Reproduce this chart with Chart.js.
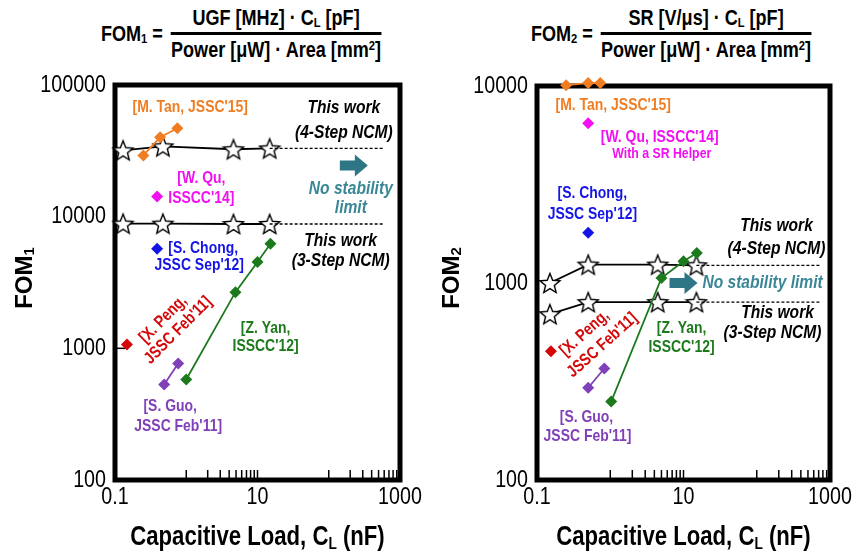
<!DOCTYPE html>
<html>
<head>
<meta charset="utf-8">
<script src="https://cdn.jsdelivr.net/npm/chart.js@4.4.1/dist/chart.umd.min.js"></script>
<style>
  body { margin: 0; background: #fff; }
  #wrap { position: relative; width: 858px; height: 559px; overflow: hidden; }
  .half { position: absolute; top: 0; width: 429px; height: 559px; }
  .fom {
    position: absolute; top: 5px; display: flex; align-items: center; white-space: nowrap;
    font: bold 22px 'Liberation Sans', Arial, sans-serif; line-height: 25px; color: #000;
    transform: scaleX(0.82); transform-origin: 0 0;
  }
  .fom sub { font-size: 0.62em; vertical-align: -0.15em; line-height: 0; }
  .fom sup { font-size: 0.62em; vertical-align: 0.55em; line-height: 0; }
  .frac { display: inline-flex; flex-direction: column; align-items: center; margin-left: 8px; padding: 0 2px; }
  .frac .bar { align-self: stretch; height: 3px; background: #000; margin: 2px 0; }
</style>
</head>
<body>
<div id="wrap">
  <div class="fom" style="left:101px">
    <span>FOM<sub>1</sub> =</span>
    <span class="frac"><span>UGF [MHz] · C<sub>L</sub> [pF]</span><span class="bar"></span><span>Power [μW] · Area [mm<sup>2</sup>]</span></span>
  </div>
  <div class="fom" style="left:531px">
    <span>FOM<sub>2</sub> =</span>
    <span class="frac"><span>SR [V/μs] · C<sub>L</sub> [pF]</span><span class="bar"></span><span>Power [μW] · Area [mm<sup>2</sup>]</span></span>
  </div>
  <canvas id="c1" class="half" style="left:0" width="429" height="559"></canvas>
  <canvas id="c2" class="half" style="left:429px" width="429" height="559"></canvas>
</div>
<script>
// ---- data ----
const xTicks = [0.1, 10, 1000];
const xMinorTicks = [1, 2, 3, 4, 5, 6, 7, 8, 9, 10, 100, 200, 300, 400, 500, 600, 700, 800, 900];
const y1Ticks = [100, 1000, 10000, 100000];
const y2Ticks = [100, 1000, 10000];

// FOM1 (left)
const f1Step4X = [0.13, 0.47, 4.6, 14.8];
const f1Step4Y = [31900, 34200, 32500, 33000];
const f1Step3X = [0.13, 0.47, 4.6, 14.8];
const f1Step3Y = [8850, 8850, 8800, 8800];
const f1LimitX = [14.8, 600];
const f1TanX = [0.25, 0.43, 0.75];
const f1TanY = [29200, 40100, 47000];
const f1QuX = [0.39];
const f1QuY = [14200];
const f1ChongX = [0.39];
const f1ChongY = [5700];
const f1YanX = [1.0, 4.9, 10, 15.2];
const f1YanY = [580, 2670, 4530, 6220];
const f1PengX = [0.147];
const f1PengY = [1070];
const f1GuoX = [0.49, 0.77];
const f1GuoY = [531, 767];

// FOM2 (right)
const f2Step4X = [0.15, 0.5, 4.45, 15];
const f2Step4Y = [1000, 1240, 1240, 1230];
const f2Step3X = [0.15, 0.5, 4.45, 15];
const f2Step3Y = [695, 800, 800, 800];
const f2LimitX = [15, 750];
const f2TanX = [0.25, 0.5, 0.73];
const f2TanY = [10100, 10350, 10350];
const f2QuX = [0.5];
const f2QuY = [6470];
const f2ChongX = [0.5];
const f2ChongY = [1800];
const f2YanX = [1.03, 5.0, 10, 15.2];
const f2YanY = [250, 1060, 1290, 1420];
const f2PengX = [0.155];
const f2PengY = [450];
const f2GuoX = [0.5, 0.83];
const f2GuoY = [294, 368];

const ORANGE = '#f07d22', MAGENTA = '#f010f0', BLUE = '#1414e6', GREEN = '#1c7a1c',
      RED = '#d40808', PURPLE = '#8040b8', TEAL = '#2e7585', TEAL_TXT = '#3a8797';
const SANS = "'Liberation Sans', Arial, sans-serif";
const NARROW_X = 0.82; // squeeze Liberation Sans to look like Arial Narrow
const NOTE = 'bold 17px ' + SANS;
const NOTE_I = 'italic bold 19px ' + SANS;

// star marker (outlined five-point star)
const star = (() => {
  const c = document.createElement('canvas');
  c.width = 24; c.height = 24;
  const g = c.getContext('2d');
  g.beginPath();
  for (let i = 0; i < 10; i++) {
    const r = i % 2 ? 4.6 : 10.5;
    const a = -Math.PI / 2 + i * Math.PI / 5;
    g.lineTo(12 + r * Math.cos(a), 13 + r * Math.sin(a));
  }
  g.closePath();
  g.fillStyle = '#fff'; g.fill();
  g.lineWidth = 1.4; g.strokeStyle = '#000'; g.stroke();
  return c;
})();

function pts(xs, ys) { return xs.map((x, i) => ({ x: x, y: ys[i] })); }

function ref(xs, ys, color) {
  return {
    data: pts(xs, ys), showLine: true, borderColor: color, backgroundColor: color,
    borderWidth: 1.8, pointStyle: 'rectRot', pointRadius: 6, pointBorderWidth: 0, clip: false
  };
}
function ours(xs, ys) {
  return {
    data: pts(xs, ys), showLine: true, borderColor: '#000', borderWidth: 1.8,
    pointStyle: star, clip: false
  };
}
function limit(xs, level) {
  return {
    data: pts(xs, [level, level]), showLine: true, borderColor: '#000', borderWidth: 1.3,
    borderDash: [3, 2], pointRadius: 0, clip: false
  };
}

// narrow text: draw with a horizontal squeeze
function ntext(ctx, s, x, y, font, align) {
  ctx.save();
  ctx.translate(x, y);
  ctx.scale(NARROW_X, 1);
  ctx.font = font;
  ctx.textAlign = align || 'center';
  ctx.textBaseline = 'middle';
  ctx.fillText(s, 0, 0);
  ctx.restore();
}

// rich text made of segments, some subscripted, centred on (cx, cy)
function richText(ctx, segs, size, weight, cx, cy, sx) {
  ctx.save();
  ctx.translate(cx, cy);
  ctx.scale(sx, 1);
  let w = 0;
  segs.forEach(s => {
    ctx.font = weight + ' ' + (s.sub ? size * 0.62 : size) + 'px ' + SANS;
    s.w = ctx.measureText(s.t).width; w += s.w;
  });
  let x = -w / 2;
  ctx.textAlign = 'left'; ctx.textBaseline = 'middle';
  segs.forEach(s => {
    ctx.font = weight + ' ' + (s.sub ? size * 0.62 : size) + 'px ' + SANS;
    ctx.fillText(s.t, x, s.sub ? size * 0.22 : 0);
    x += s.w;
  });
  ctx.restore();
}

const framePlugin = {
  id: 'frame',
  beforeDatasetsDraw(chart, args, o) {
    const { ctx, chartArea: a, scales: { x, y } } = chart;
    ctx.save();
    ctx.strokeStyle = '#000';
    ctx.lineWidth = 5;
    ctx.strokeRect(a.left, a.top, a.right - a.left, a.bottom - a.top);
    ctx.lineWidth = 1.5;
    xMinorTicks.forEach(v => {
      const px = x.getPixelForValue(v);
      ctx.beginPath(); ctx.moveTo(px, a.bottom - 2); ctx.lineTo(px, a.bottom - 10); ctx.stroke();
    });
    (o.yMinor || []).forEach(v => {
      const py = y.getPixelForValue(v);
      ctx.beginPath(); ctx.moveTo(a.left + 2, py); ctx.lineTo(a.left + 10, py); ctx.stroke();
    });
    // tick labels
    ctx.fillStyle = '#000';
    x.ticks.forEach(t => ntext(ctx, String(t.value), x.getPixelForValue(t.value), a.bottom + 17, '24px ' + SANS));
    y.ticks.forEach(t => ntext(ctx, String(t.value), a.left - 9, y.getPixelForValue(t.value), '24px ' + SANS, 'right'));
    // axis titles
    richText(ctx, [{ t: 'Capacitive Load, C' }, { t: 'L', sub: true }, { t: ' (nF)' }],
      27, 'bold', (a.left + a.right) / 2, 538, NARROW_X);
    ctx.translate(o.yTitleX, 278);
    ctx.rotate(-Math.PI / 2);
    richText(ctx, [{ t: 'FOM' }, { t: o.sub, sub: true }], 24, 'bold', 0, 0, 1);
    ctx.restore();
  }
};

const notesPlugin = {
  id: 'notes',
  afterDatasetsDraw(chart, args, o) {
    const { ctx, scales: { x, y } } = chart;
    ctx.save();
    o.items.forEach(n => {
      ctx.save();
      ctx.translate(x.getPixelForValue(n.x), y.getPixelForValue(n.y));
      if (n.rot) ctx.rotate(n.rot * Math.PI / 180);
      ctx.fillStyle = n.color;
      ntext(ctx, n.t, 0, 0, n.font || NOTE);
      ctx.restore();
    });
    o.arrows.forEach(n => {
      const cx = x.getPixelForValue(n.x), cy = y.getPixelForValue(n.y);
      ctx.fillStyle = TEAL;
      ctx.beginPath();
      ctx.moveTo(cx - 14, cy - 5); ctx.lineTo(cx + 1, cy - 5); ctx.lineTo(cx + 1, cy - 11);
      ctx.lineTo(cx + 14, cy); ctx.lineTo(cx + 1, cy + 11); ctx.lineTo(cx + 1, cy + 5);
      ctx.lineTo(cx - 14, cy + 5); ctx.closePath(); ctx.fill();
    });
    ctx.restore();
  }
};

function makeChart(id, cfg) {
  return new Chart(document.getElementById(id), {
    type: 'scatter',
    data: { datasets: cfg.datasets },
    options: {
      responsive: false, animation: false, devicePixelRatio: 1,
      layout: { padding: { left: 0, top: cfg.top, right: cfg.right, bottom: 0 } },
      plugins: {
        legend: { display: false }, tooltip: { enabled: false },
        frame: { yTitleX: cfg.yTitleX, sub: cfg.sub, yMinor: cfg.yMinor },
        notes: { items: cfg.notes, arrows: cfg.arrows }
      },
      scales: {
        x: {
          type: 'logarithmic', min: 0.1, max: 1000,
          grid: { display: false, drawTicks: false }, border: { display: false },
          afterBuildTicks: s => { s.ticks = xTicks.map(v => ({ value: v })); },
          afterFit: s => { s.height = 559 - 480; },
          ticks: { display: false }
        },
        y: {
          type: 'logarithmic', min: cfg.yTicks[0], max: cfg.yTicks[cfg.yTicks.length - 1],
          grid: { display: false, drawTicks: false }, border: { display: false },
          afterBuildTicks: s => { s.ticks = cfg.yTicks.map(v => ({ value: v })); },
          afterFit: s => { s.width = cfg.left; },
          ticks: { display: false }
        }
      }
    },
    plugins: [framePlugin, notesPlugin]
  });
}

makeChart('c1', {
  top: 85, right: 29, left: 115, yTitleX: 25, sub: '1', yTicks: y1Ticks, yMinor: [1000],
  datasets: [
    limit(f1LimitX, f1Step4Y[f1Step4Y.length - 1]),
    limit(f1LimitX, f1Step3Y[f1Step3Y.length - 1]),
    ref(f1TanX, f1TanY, ORANGE),
    ref(f1QuX, f1QuY, MAGENTA),
    ref(f1ChongX, f1ChongY, BLUE),
    ref(f1YanX, f1YanY, GREEN),
    ref(f1PengX, f1PengY, RED),
    ref(f1GuoX, f1GuoY, PURPLE),
    ours(f1Step4X, f1Step4Y),
    ours(f1Step3X, f1Step3Y)
  ],
  notes: [
    { t: "[M. Tan, JSSC'15]", x: 1.14, y: 67900, color: ORANGE },
    { t: 'This work', x: 163, y: 66700, color: '#000', font: NOTE_I },
    { t: '(4-Step NCM)', x: 163, y: 43700, color: '#000', font: NOTE_I },
    { t: 'No stability', x: 204, y: 16400, color: TEAL_TXT, font: NOTE_I },
    { t: 'limit', x: 204, y: 11700, color: TEAL_TXT, font: NOTE_I },
    { t: '[W. Qu,', x: 1.63, y: 19500, color: MAGENTA },
    { t: "ISSCC'14]", x: 1.63, y: 13700, color: MAGENTA },
    { t: 'This work', x: 147, y: 6560, color: '#000', font: NOTE_I },
    { t: '(3-Step NCM)', x: 147, y: 4610, color: '#000', font: NOTE_I },
    { t: '[S. Chong,', x: 1.73, y: 5800, color: BLUE },
    { t: "JSSC Sep'12]", x: 1.52, y: 4300, color: BLUE },
    { t: '[X. Peng,', x: 0.474, y: 1660, color: RED, rot: -45 },
    { t: "JSSC Feb'11]", x: 0.77, y: 1370, color: RED, rot: -45 },
    { t: '[Z. Yan,', x: 13, y: 1420, color: GREEN },
    { t: "ISSCC'12]", x: 13, y: 1035, color: GREEN },
    { t: '[S. Guo,', x: 0.595, y: 361, color: PURPLE },
    { t: "JSSC Feb'11]", x: 0.77, y: 254, color: PURPLE }
  ],
  arrows: [{ x: 225, y: 24500 }]
});

makeChart('c2', {
  top: 86, right: 28, left: 108, yTitleX: 23, sub: '2', yTicks: y2Ticks, yMinor: [],
  datasets: [
    limit(f2LimitX, f2Step4Y[f2Step4Y.length - 1]),
    limit(f2LimitX, f2Step3Y[f2Step3Y.length - 1]),
    ref(f2TanX, f2TanY, ORANGE),
    ref(f2QuX, f2QuY, MAGENTA),
    ref(f2ChongX, f2ChongY, BLUE),
    ref(f2YanX, f2YanY, GREEN),
    ref(f2PengX, f2PengY, RED),
    ref(f2GuoX, f2GuoY, PURPLE),
    ours(f2Step4X, f2Step4Y),
    ours(f2Step3X, f2Step3Y)
  ],
  notes: [
    { t: "[M. Tan, JSSC'15]", x: 1.1, y: 8000, color: ORANGE },
    { t: "[W. Qu, ISSCC'14]", x: 4.74, y: 5490, color: MAGENTA },
    { t: 'With a SR Helper', x: 5.05, y: 4550, color: MAGENTA, font: 'bold 15px ' + SANS },
    { t: '[S. Chong,', x: 0.57, y: 2850, color: BLUE },
    { t: "JSSC Sep'12]", x: 0.57, y: 2220, color: BLUE },
    { t: 'This work', x: 186, y: 1950, color: '#000', font: NOTE_I },
    { t: '(4-Step NCM)', x: 186, y: 1490, color: '#000', font: NOTE_I },
    { t: 'No stability limit', x: 120, y: 1000, color: TEAL_TXT, font: NOTE_I },
    { t: 'This work', x: 192, y: 703, color: '#000', font: NOTE_I },
    { t: '(3-Step NCM)', x: 164, y: 556, color: '#000', font: NOTE_I },
    { t: '[Z. Yan,', x: 9.4, y: 589, color: GREEN },
    { t: "ISSCC'12]", x: 9.4, y: 471, color: GREEN },
    { t: '[X. Peng,', x: 0.446, y: 556, color: RED, rot: -42 },
    { t: "JSSC Feb'11]", x: 0.78, y: 483, color: RED, rot: -42 },
    { t: '[S. Guo,', x: 0.474, y: 209, color: PURPLE },
    { t: "JSSC Feb'11]", x: 0.489, y: 167, color: PURPLE }
  ],
  arrows: [{ x: 10, y: 1000 }]
});
</script>
</body>
</html>
